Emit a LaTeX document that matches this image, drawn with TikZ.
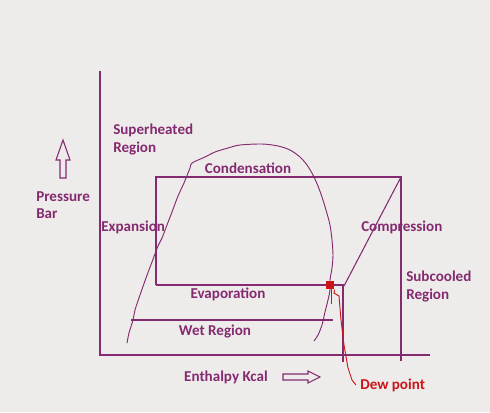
\documentclass[tikz,border=0pt]{standalone}
\usepackage{fontspec}
\setmainfont{Carlito}
\definecolor{purp}{RGB}{132,42,112}
\definecolor{dewred}{RGB}{205,20,25}
\definecolor{bg}{RGB}{238,236,234}
\begin{document}
\begin{tikzpicture}[x=0.75pt,y=-0.75pt,
  lbl/.style={text=purp,font=\bfseries\fontsize{11.3}{13}\selectfont,inner sep=0pt,align=left},
  ln/.style={draw=purp,line width=0.8pt},
  hollow/.style={draw=purp,line width=0.8pt,fill=bg}]
\fill[bg] (0,0) rectangle (490,412);
\useasboundingbox (0,0) rectangle (490,412);
% axes
\coordinate (yt) at (100,71);
\coordinate (o) at (100,355);
\coordinate (xe) at (430,355);
\draw[ln] (yt) -- (o) -- (xe);
% cycle
\coordinate (tl) at (156,177);
\coordinate (tr) at (401,177);
\coordinate (trb) at (401,361);
\coordinate (bl) at (156,285);
\coordinate (br) at (343,285);
\coordinate (brb) at (343,362);
\coordinate (cp) at (344,286);
\draw[ln] (bl) -- (tl) -- (tr) -- (trb);
\draw[ln] (bl) -- (br) -- (brb);
\draw[ln] (tr) -- (cp);
\coordinate (wl) at (131,320);
\coordinate (wr) at (333,320);
\draw[ln] (wl) -- (wr);
% dome
\draw[purp,line width=0.7pt] plot[smooth,tension=0.5] coordinates {
(127,343) (129,333) (133,320) (135,310) (140,295) (146,278) (152,262) (158,246) (162,238) (167,225) (172,212) (178,196) (184,183) (190,168) (192,163) (205,157) (215,152) (228,148) (240,145) (262,144) (278,146) (290,150) (300,157) (307,165) (313,175) (318,186) (322,197) (326,210) (330,225) (332,240) (333,255) (332,268) (330,280) (330,290) (328,300) (325,312) (322,325) (318,335) (314,341)};
% dew point marker
\node[fill=dewred,minimum size=6.5pt,inner sep=0pt] (dp) at (330,285) {};
\draw[dewred,line width=0.7pt] (331,288) -- (331,304);
\coordinate (dpl) at (356,385);
\draw[dewred,line width=0.7pt] (dp.south east) -- (334,293) -- (339,296) -- (341,320) -- (344,345) -- (348,368) -- (352,380) -- (dpl);
\node[text=dewred,font=\bfseries\fontsize{11.3}{13}\selectfont,inner sep=0pt,anchor=west] (dew) at (360,385) {Dew point};
% hollow arrows
\draw[hollow] (60,178) -- (60,160) -- (56,160) -- (63,140) -- (70,160) -- (66,160) -- (66,178) -- cycle;
\draw[hollow] (283,374) -- (308,374) -- (308,371) -- (320,377) -- (308,383) -- (308,380) -- (283,380) -- cycle;
% labels
\node[lbl,anchor=north west] (sh) at (113,124) {Superheated\\Region};
\node[lbl,anchor=north west] (pb) at (36,191) {Pressure\\Bar};
\node[lbl,anchor=west] (exp) at (101,227) {Expansion};
\node[lbl] (cond) at (248,168) {Condensation};
\node[lbl,anchor=west] (comp) at (361,227) {Compression};
\node[lbl,anchor=north west] (sc) at (406,271) {Subcooled\\Region};
\node[lbl] (evap) at (228,294) {Evaporation};
\node[lbl] (wet) at (215,331) {Wet Region};
\node[lbl] (enth) at (226,377) {Enthalpy Kcal};
\end{tikzpicture}
\end{document}
